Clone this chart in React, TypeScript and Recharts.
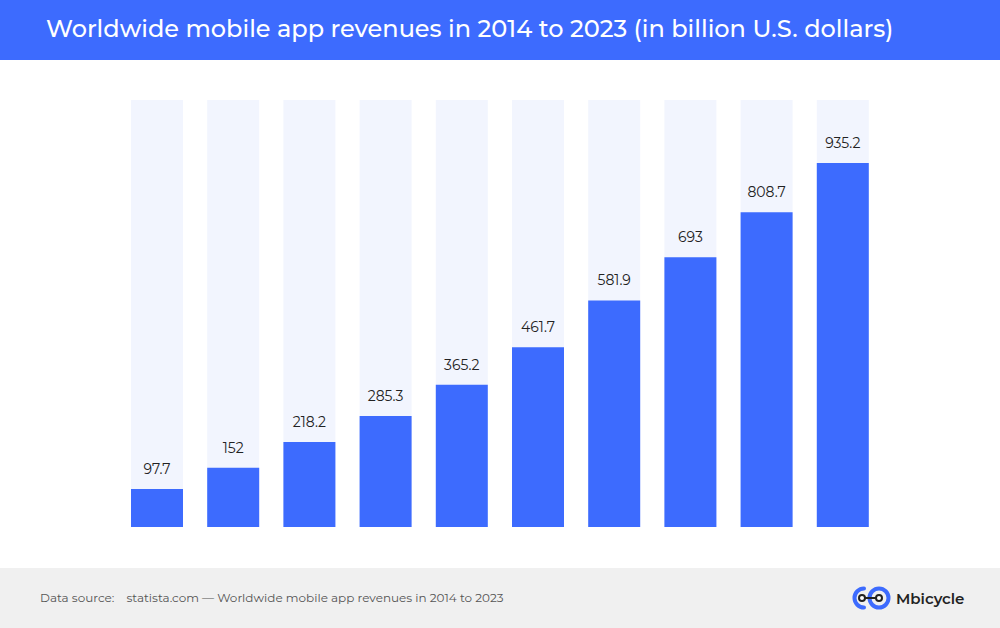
import { BarChart, Bar, XAxis, YAxis, LabelList } from "recharts";

const years = ["2014", "2015", "2016", "2017", "2018", "2019", "2020", "2021", "2022", "2023"];
const revenues = [97.7, 152, 218.2, 285.3, 365.2, 461.7, 581.9, 693, 808.7, 935.2];

const chartData = years.map((year, i) => ({ year, revenue: revenues[i] }));

const BLUE = "#3d6bfe";
const FONT = "Montserrat, 'Open Sans', sans-serif";

function Logo() {
  return (
    <div style={{ position: "absolute", left: 852, top: 585, display: "flex", alignItems: "center" }}>
      <svg width={40} height={26} viewBox="0 0 40 26">
        <path d="M 12 3.5 A 9.5 9.5 0 1 0 12 22.5" fill="none" stroke={BLUE} strokeWidth={4} strokeLinecap="round" />
        <circle cx={27} cy={13} r={9.5} fill="none" stroke={BLUE} strokeWidth={4} />
        <line x1={10} y1={13} x2={27} y2={13} stroke="#222" strokeWidth={2} />
        <circle cx={10} cy={13} r={3} fill="#fff" stroke="#222" strokeWidth={2} />
        <circle cx={27} cy={13} r={3} fill="#fff" stroke="#222" strokeWidth={2} />
      </svg>
      <span style={{ marginLeft: 4, fontFamily: FONT, fontWeight: 600, fontSize: 15, color: "#222" }}>
        Mbicycle
      </span>
    </div>
  );
}

export default function App() {
  return (
    <div style={{ position: "fixed", left: 0, top: 0, width: 1000, height: 628, background: "#fff", overflow: "hidden" }}>
      <div style={{ position: "absolute", left: 0, top: 0, width: 1000, height: 60, background: BLUE }}>
        <div style={{ position: "absolute", left: 46, top: 14, fontFamily: FONT, fontSize: 24, fontWeight: 500, color: "#fff", whiteSpace: "nowrap" }}>
          Worldwide mobile app revenues in 2014 to 2023 (in billion U.S. dollars)
        </div>
      </div>

      <div style={{ position: "absolute", left: 0, top: 0 }}>
        <BarChart width={1000} height={628} data={chartData} margin={{ top: 100, right: 119, bottom: 101, left: 119 }}>
          <XAxis dataKey="year" hide />
          <YAxis hide domain={[0, 1097]} />
          <Bar dataKey="revenue" fill={BLUE} barSize={52} background={{ fill: "#f2f5fe" }} isAnimationActive={false}>
            <LabelList dataKey="revenue" position="top" offset={15} fill="#222" fontSize={14} fontFamily={FONT} />
          </Bar>
        </BarChart>
      </div>

      <div style={{ position: "absolute", left: 0, top: 568, width: 1000, height: 60, background: "#f0f0f0" }}>
        <div style={{ position: "absolute", left: 40, top: 22, fontFamily: FONT, fontSize: 12, color: "#555", whiteSpace: "nowrap" }}>
          Data source:<span style={{ marginLeft: 12 }}>statista.com — Worldwide mobile app revenues in 2014 to 2023</span>
        </div>
      </div>
      <Logo />
    </div>
  );
}
